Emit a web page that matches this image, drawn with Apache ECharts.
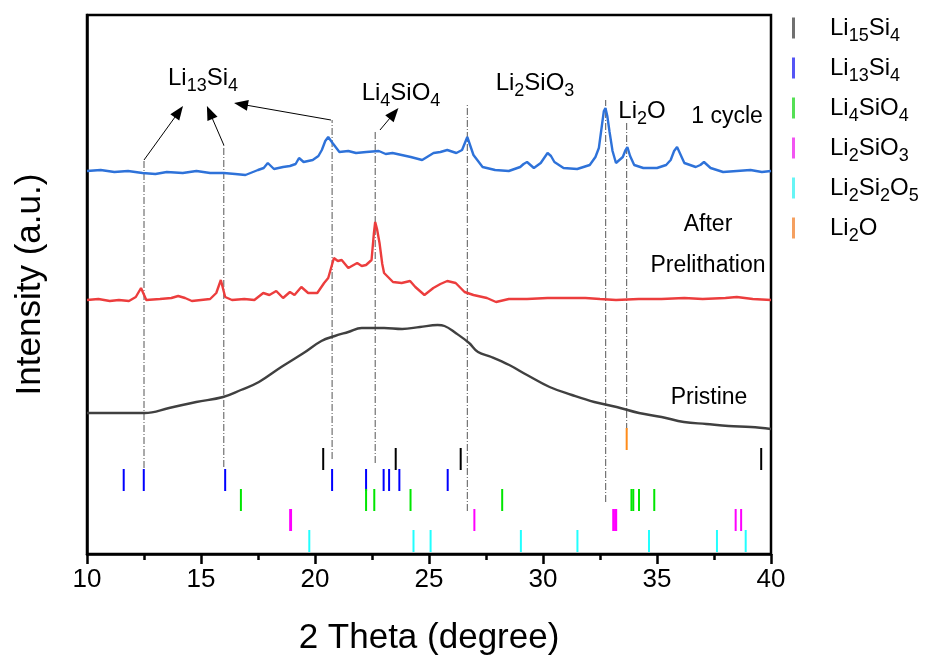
<!DOCTYPE html>
<html>
<head>
<meta charset="utf-8">
<script src="https://cdn.jsdelivr.net/npm/echarts@6/dist/echarts.min.js"></script>
<style>
  html, body { margin: 0; padding: 0; background: #fff; }
  #chart { width: 931px; height: 668px; }
</style>
</head>
<body>
<div id="chart"></div>
<script>
const FONT = '"Liberation Sans", Arial, sans-serif'

// XRD curves: [2theta, intensity (a.u.)]
const cycle1Curve = [
  [10.0, 383], [10.6, 384], [11.2, 382], [11.8, 383], [12.43, 381], [13.0, 380], [13.5, 382], [14.2, 381],
  [14.8, 383], [15.4, 381], [16.0, 381], [16.5, 380], [16.95, 379], [17.5, 384], [17.75, 386], [17.93, 391],
  [18.2, 385], [18.6, 387], [18.9, 388], [19.15, 390], [19.3, 396], [19.5, 392], [19.9, 394], [20.15, 398],
  [20.3, 404], [20.45, 413], [20.58, 417], [20.77, 411], [21.07, 402], [21.46, 403], [21.8, 401], [22.25, 402],
  [22.8, 403], [23.1, 400], [23.4, 401], [23.8, 399], [24.2, 397], [24.7, 394], [25.2, 401], [25.5, 402],
  [25.8, 404], [26.2, 401], [26.45, 404], [26.68, 417], [26.95, 399], [27.35, 387], [27.9, 384], [28.5, 383],
  [29.0, 387], [29.15, 390], [29.3, 392], [29.6, 386], [29.9, 391], [30.05, 396], [30.2, 401], [30.35, 398],
  [30.5, 392], [30.9, 386], [31.5, 385], [32.05, 389], [32.3, 397], [32.45, 406], [32.58, 428], [32.67, 443],
  [32.74, 446], [32.82, 438], [32.92, 422], [33.05, 403], [33.2, 391], [33.5, 397], [33.62, 404], [33.7, 407],
  [33.82, 398], [34.0, 389], [34.4, 386], [35.0, 386], [35.4, 389], [35.6, 394], [35.75, 403], [35.88, 407],
  [36.0, 401], [36.2, 391], [36.7, 387], [36.9, 389], [37.06, 392], [37.35, 386], [37.9, 382], [38.5, 383],
  [39.1, 384], [39.6, 382], [40.0, 383]
]
const prelithCurve = [
  [10.0, 254], [10.5, 255], [11.0, 253], [11.4, 254], [11.84, 253], [12.14, 257], [12.37, 266], [12.6, 254],
  [13.2, 255], [13.7, 256], [14.0, 258], [14.3, 256], [14.6, 253], [15.0, 254], [15.4, 255], [15.67, 261],
  [15.87, 274], [16.06, 257], [16.36, 254], [16.9, 255], [17.34, 254], [17.73, 261], [18.0, 259], [18.3, 263],
  [18.6, 256], [18.9, 262], [19.1, 259], [19.4, 267], [19.7, 261], [20.1, 261], [20.4, 271], [20.58, 276],
  [20.83, 296], [21.0, 293], [21.17, 294], [21.46, 286], [21.85, 291], [22.05, 288], [22.24, 289], [22.48, 294],
  [22.58, 320], [22.64, 332], [22.72, 325], [22.83, 311], [22.95, 290], [23.03, 281], [23.42, 272], [23.8, 271],
  [24.17, 273], [24.4, 267], [24.8, 259], [25.19, 266], [25.5, 270], [25.8, 273], [26.17, 271], [26.56, 262],
  [26.95, 259], [27.54, 256], [27.94, 252], [28.5, 255], [29.3, 255], [30.2, 256], [31.08, 256], [31.86, 256],
  [32.5, 255], [33.2, 254], [34.2, 255], [35.2, 255], [36.2, 256], [37.0, 255], [38.0, 256], [38.5, 257],
  [39.2, 255], [40.0, 254]
]
const pristineCurve = [
  [10.0, 141], [11.0, 141], [12.53, 141], [13.6, 146], [14.79, 152], [15.97, 157], [16.75, 164], [17.54, 172],
  [18.52, 187], [19.5, 201], [20.28, 213], [20.87, 218], [21.46, 222], [22.05, 226], [23.03, 226], [23.82, 225],
  [24.6, 227], [25.38, 229], [25.68, 228], [26.17, 221], [26.76, 211], [27.15, 202], [27.74, 197], [28.52, 189],
  [29.3, 179], [30.29, 167], [31.27, 159], [32.25, 152], [33.23, 147], [34.21, 141], [35.2, 137], [36.18, 132],
  [37.16, 130], [38.14, 128], [39.12, 127], [40.0, 125]
]

// reference peak positions (2theta) for each phase
const phaseNames = ['Li15Si4', 'Li13Si4', 'Li4SiO4', 'Li2SiO3', 'Li2Si2O5', 'Li2O']
const li15si4Peaks = [20.36, 23.54, 26.39, 39.57]
const li13si4Peaks = [11.61, 12.49, 16.06, 20.75, 22.24, 23.01, 23.25, 23.70, 25.82]
const li4sio4Peaks = [16.75, 22.24, 22.60, 24.19, 28.21, 33.88, 33.96, 34.21, 34.88]
const li2sio3Peaks = [18.91, 18.95, 26.99, 33.08, 33.16, 33.21, 38.45, 38.69]
const li2si2o5Peaks = [19.75, 24.32, 25.07, 29.03, 31.51, 34.65, 37.63, 38.89]
const li2oPeaks = [33.67]
// stick rows [bottom, top] in a.u.
const stickRows = [[84, 106], [63, 85], [43, 65], [23, 45], [2, 24], [104, 126]]

// dash-dot guide lines [2theta, bottom, top]
const guideLines = [
  [12.5, 86, 394], [16.0, 87, 409], [20.75, 95, 434], [22.64, 91, 424],
  [26.68, 43, 449], [32.75, 52, 454], [33.67, 124, 432]
]
// arrows [x0, y0, x1(tip), y1(tip)]
const arrows = [
  [12.5, 394, 14.21, 448], [16.0, 409, 15.26, 448], [20.7, 434, 16.45, 451], [22.85, 424, 23.66, 446]
]

const stickColors = ['#000000', '#0000ff', '#00e600', '#ff00ff', '#22ffff', '#ff8c1a']
const legendColors = ['#707070', '#5555f5', '#55e055', '#f255f2', '#66f5f5', '#f5a060']

function chem (str) {
  return str.replace(/(\D+)|(\d+)/g, (m, a, b) => a ? '{m|' + a + '}' : '{s|' + b + '}')
}
function richStyle (big, small, drop) {
  return {
    m: { fontSize: big, fontFamily: FONT, color: '#000', lineHeight: big + 1 },
    s: { fontSize: small, fontFamily: FONT, color: '#000', lineHeight: small, padding: [drop, 0, 0, 0] },
    g: { width: 30 }
  }
}
const labelRich = richStyle(24, 18, 16)

const chart = echarts.init(document.getElementById('chart'))

function stickItem (params, api) {
  const p0 = api.coord([api.value(0), api.value(1)])
  const p1 = api.coord([api.value(0), api.value(2)])
  return {
    type: 'line',
    shape: { x1: p0[0], y1: p0[1], x2: p1[0], y2: p1[1] },
    style: { stroke: api.visual('color'), lineWidth: 2 }
  }
}
function guideItem (params, api) {
  const p0 = api.coord([api.value(0), api.value(1)])
  const p1 = api.coord([api.value(0), api.value(2)])
  return {
    type: 'line',
    shape: { x1: p0[0], y1: p0[1], x2: p1[0], y2: p1[1] },
    style: { stroke: '#555', lineWidth: 1, lineDash: [7, 2, 1, 2] }
  }
}
function arrowItem (params, api) {
  const a = api.coord([api.value(0), api.value(1)])
  const b = api.coord([api.value(2), api.value(3)])
  const dx = b[0] - a[0]
  const dy = b[1] - a[1]
  const len = Math.sqrt(dx * dx + dy * dy)
  const ux = dx / len
  const uy = dy / len
  const hl = 14
  const hw = 5.5
  const bx = b[0] - ux * hl
  const by = b[1] - uy * hl
  return {
    type: 'group',
    children: [
      { type: 'line', shape: { x1: a[0], y1: a[1], x2: bx + ux * 2, y2: by + uy * 2 }, style: { stroke: '#000', lineWidth: 1 } },
      { type: 'polygon', shape: { points: [b, [bx - uy * hw, by + ux * hw], [bx + uy * hw, by - ux * hw]] }, style: { fill: '#000' } }
    ]
  }
}

const peakLists = [li15si4Peaks, li13si4Peaks, li4sio4Peaks, li2sio3Peaks, li2si2o5Peaks, li2oPeaks]
const stickSeries = phaseNames.map((name, i) => ({
  name: name,
  type: 'custom',
  renderItem: stickItem,
  itemStyle: { color: stickColors[i] },
  encode: { x: 0, y: [1, 2] },
  data: peakLists[i].map(x => [x, stickRows[i][0], stickRows[i][1]]),
  z: 3
}))

function textLabel (x, y, text, rich) {
  return {
    type: 'text',
    x: x,
    y: y,
    style: { text: text, rich: rich, fontSize: 23, fontFamily: FONT, fill: '#000', align: 'center', verticalAlign: 'middle' }
  }
}

const option = {
  animation: false,
  backgroundColor: '#fff',
  grid: { left: 87, right: 160, top: 15, bottom: 114, show: true, borderColor: '#000', borderWidth: 2.5 },
  legend: {
    orient: 'vertical',
    left: 792,
    top: 11,
    padding: 0,
    icon: 'rect',
    itemWidth: 3,
    itemHeight: 21,
    itemGap: 6,
    data: phaseNames.map((n, i) => ({ name: n, itemStyle: { color: legendColors[i] } })),
    formatter: name => '{g| }' + chem(name),
    textStyle: { rich: richStyle(24, 18, 16) }
  },
  xAxis: {
    type: 'value',
    min: 10,
    max: 40,
    interval: 5,
    name: '2 Theta (degree)',
    nameLocation: 'middle',
    nameGap: 67,
    nameTextStyle: { fontSize: 35, fontFamily: FONT, color: '#000' },
    axisLine: { lineStyle: { color: '#000', width: 2.5 } },
    axisTick: { length: 10, lineStyle: { color: '#000', width: 2.5 } },
    minorTick: { show: true, splitNumber: 2, length: 6, lineStyle: { color: '#000', width: 2.5 } },
    axisLabel: { fontSize: 26, fontFamily: FONT, color: '#000', margin: 13 },
    splitLine: { show: false }
  },
  yAxis: {
    type: 'value',
    min: 0,
    max: 539,
    name: 'Intensity (a.u.)',
    nameLocation: 'middle',
    nameGap: 39,
    nameTextStyle: { fontSize: 35, fontFamily: FONT, color: '#000' },
    axisLine: { show: true, lineStyle: { color: '#000', width: 2.5 } },
    axisTick: { show: false },
    axisLabel: { show: false },
    splitLine: { show: false }
  },
  graphic: [
    textLabel(203, 78, chem('Li13Si4'), labelRich),
    textLabel(401, 93, chem('Li4SiO4'), labelRich),
    textLabel(535, 83, chem('Li2SiO3'), labelRich),
    textLabel(642, 111, chem('Li2O'), labelRich),
    textLabel(727, 117, '1 cycle'),
    textLabel(708, 225, 'After'),
    textLabel(708, 266, 'Prelithation'),
    textLabel(709, 398, 'Pristine')
  ],
  series: [
    {
      name: '1 cycle', type: 'line', data: cycle1Curve, showSymbol: false, symbol: 'none',
      lineStyle: { color: '#2e72d9', width: 2.4 }, itemStyle: { color: '#2e72d9' }, z: 4
    },
    {
      name: 'After Prelithation', type: 'line', data: prelithCurve, showSymbol: false, symbol: 'none',
      lineStyle: { color: '#ec3d3d', width: 2.4 }, itemStyle: { color: '#ec3d3d' }, z: 4
    },
    {
      name: 'Pristine', type: 'line', data: pristineCurve, showSymbol: false, symbol: 'none', smooth: 0.4,
      lineStyle: { color: '#404040', width: 2.4 }, itemStyle: { color: '#404040' }, z: 4
    },
    {
      name: 'guides', type: 'custom', renderItem: guideItem, encode: { x: 0, y: [1, 2] }, data: guideLines, z: 2
    },
    {
      name: 'arrows', type: 'custom', renderItem: arrowItem, encode: { x: [0, 2], y: [1, 3] }, data: arrows, z: 5
    }
  ].concat(stickSeries)
}

chart.setOption(option)
</script>
</body>
</html>
